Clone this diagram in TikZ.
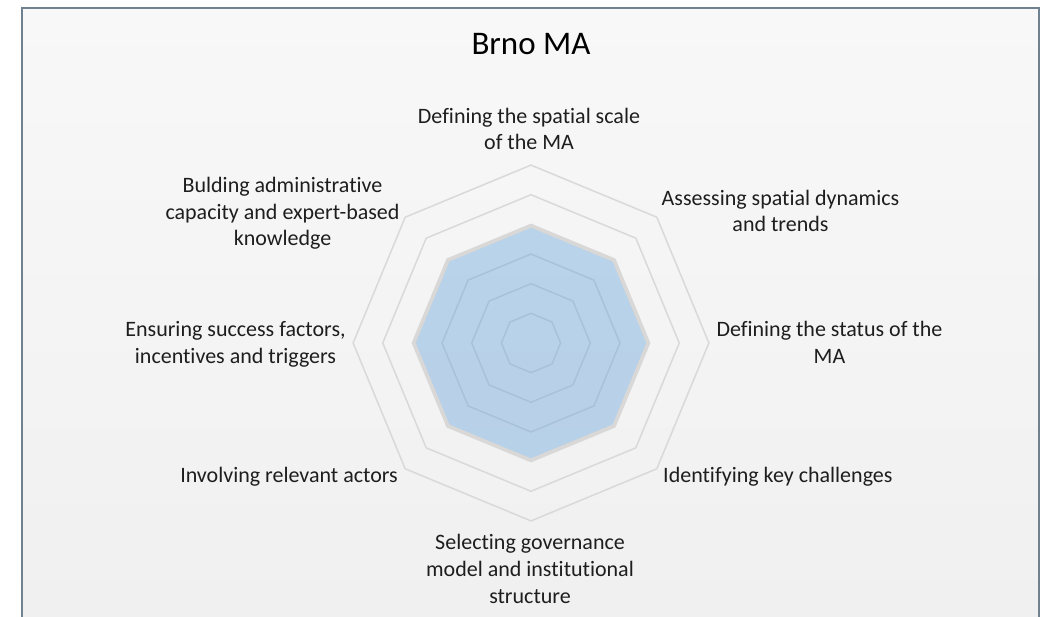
\documentclass[tikz,border=0pt]{standalone}
\usepackage{fontspec}
\setmainfont{Carlito}[Ligatures={NoCommon}]
\usetikzlibrary{calc}
\definecolor{framec}{RGB}{112,130,143}
\definecolor{bgtop}{RGB}{248,248,248}
\definecolor{bgbot}{RGB}{240,240,240}
\definecolor{gridc}{RGB}{217,217,217}
\definecolor{serc}{RGB}{96,160,218}
\definecolor{serline}{RGB}{218,216,214}
\definecolor{txtc}{RGB}{30,30,30}
\begin{document}
\begin{tikzpicture}[x=1pt,y=-1pt,
  lbl/.style={font=\fontsize{22}{26.7}\selectfont, text=txtc, align=center, inner sep=0pt, anchor=base},
  titlestyle/.style={font=\fontsize{33}{40}\selectfont, text=black, inner sep=0pt, anchor=base},
  ring/.style={draw=gridc, line width=1.5pt},
  area/.style={fill=serc, fill opacity=0.4},
  arealine/.style={draw=serline, line width=3pt, line join=miter}]
\useasboundingbox (0,0) rectangle (1043,617);
\fill[white] (0,0) rectangle (1043,617);
\shade[top color=bgtop, bottom color=bgbot] (22,8) rectangle (1039,617);
\draw[framec, line width=2pt] (22,625) -- (22,8) -- (1039,8) -- (1039,625);
\coordinate (c) at (531,343);
% grid rings
\foreach \k in {1,...,6}{
  \draw[ring, shift={(c)}] (90:{\k*29.65}) \foreach \a in {135,180,...,405}{ -- (\a:{\k*29.65}) } -- cycle;
}
% data area
\fill[area, shift={(c)}] (90:117) \foreach \a in {135,180,...,405}{ -- (\a:117) } -- cycle;
\draw[arealine, shift={(c)}] (90:117) \foreach \a in {135,180,...,405}{ -- (\a:117) } -- cycle;
% title and labels
\node[titlestyle] (title) at (531,55) {Brno MA};
\node[lbl] (l1) at (529,150) {Defining the spatial scale\\of the MA};
\node[lbl] (l2) at (780.5,232) {Assessing spatial dynamics\\and trends};
\node[lbl] (l3) at (829.5,363) {Defining the status of the\\MA};
\node[lbl, anchor=base west] (l4) at (663,482) {Identifying key challenges};
\node[lbl] (l5) at (530,603) {Selecting governance\\model and institutional\\structure};
\node[lbl, anchor=base east] (l6) at (398,482) {Involving relevant actors};
\node[lbl] (l7) at (235.5,363) {Ensuring success factors,\\incentives and triggers};
\node[lbl] (l8) at (282.5,246) {Bulding administrative\\capacity and expert-based\\knowledge};
\end{tikzpicture}
\end{document}
